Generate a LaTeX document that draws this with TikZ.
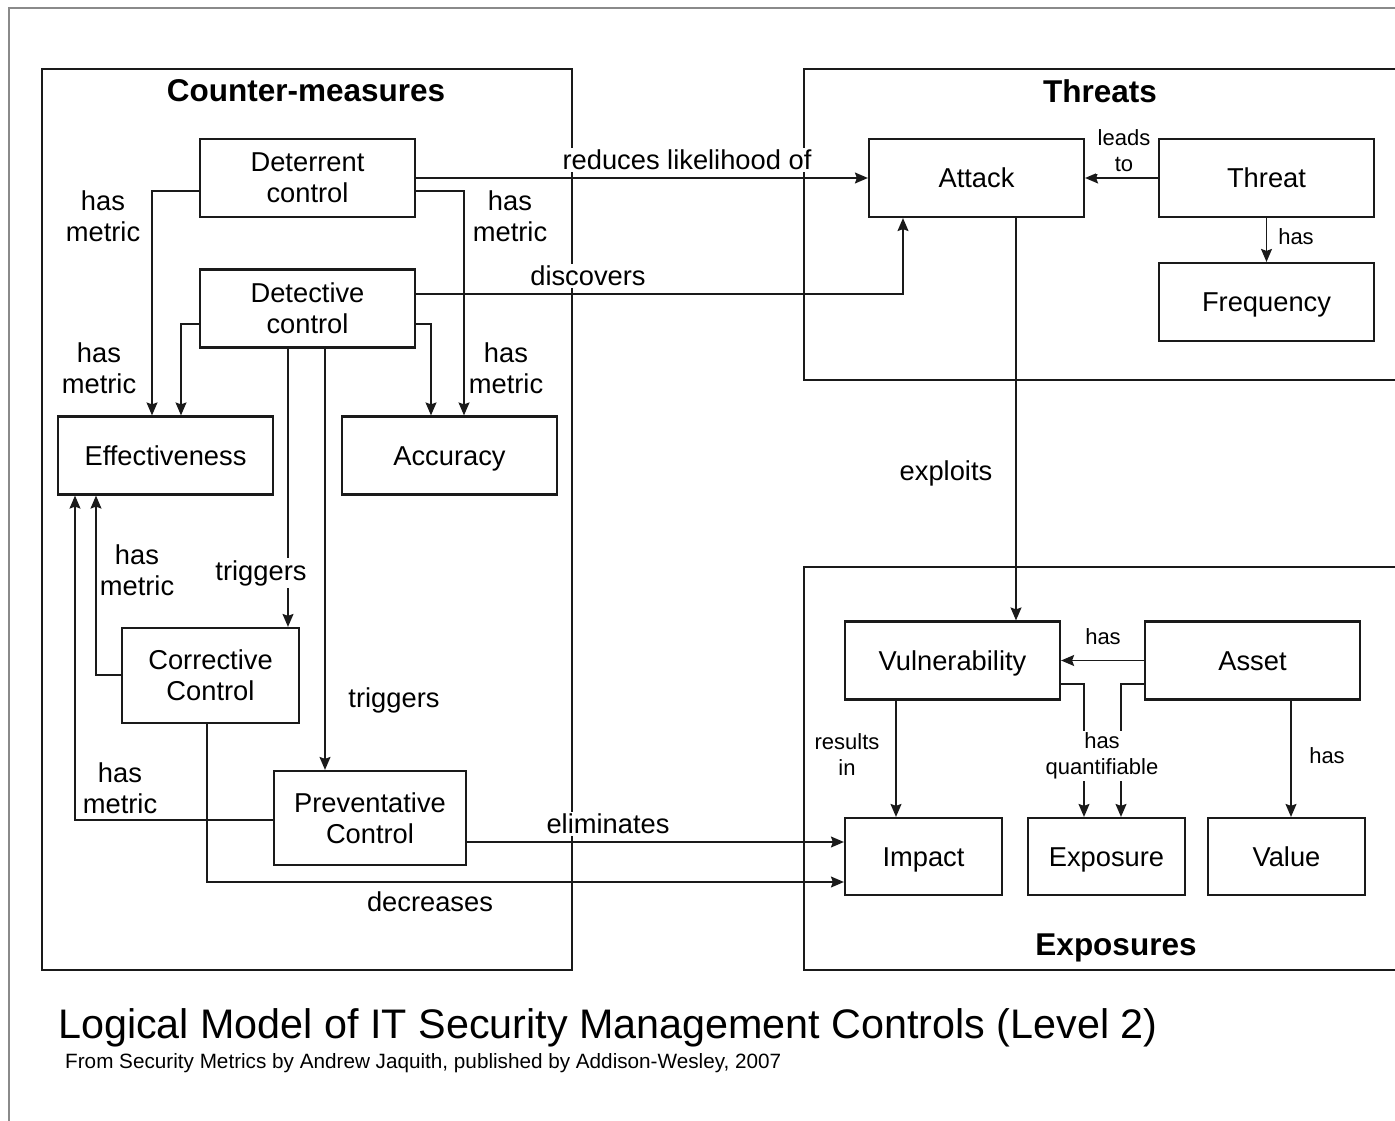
\documentclass[tikz,border=0pt]{standalone}
\usepackage{fontspec}
\setmainfont{Liberation Sans}
\usetikzlibrary{arrows.meta}
\definecolor{ink}{HTML}{1A1A1A}
\definecolor{framegray}{HTML}{8A8A8A}
\tikzset{
  box/.style={draw=ink, line width=2.2pt, minimum width=215, minimum height=78, inner sep=0pt, align=center,
              font=\fontsize{27.3}{31}\selectfont},
  oneline/.style={text height=23pt, text depth=3.4pt},
  smallbox/.style={box, oneline, minimum width=157, minimum height=77},
  group/.style={draw=ink, line width=2.4pt},
  conn/.style={draw=ink, line width=1.5pt, -{Stealth[length=13pt,width=11pt,inset=2pt]}},
  lab/.style={fill=white, inner sep=2pt, align=center, font=\fontsize{27.3}{31}\selectfont},
  slab/.style={fill=white, inner sep=2pt, align=center, font=\fontsize{22}{26}\selectfont},
  gtitle/.style={inner sep=0pt, font=\fontsize{31.5}{36}\bfseries\selectfont},
}
\begin{document}
\begin{tikzpicture}[x=1pt, y=-1pt]
\useasboundingbox (0,0) rectangle (1395,1121);
\fill[white] (0,0) rectangle (1395,1121);
% outer frame
\draw[framegray, line width=2.5pt] (1395,8) -- (9,8) -- (9,1121);
% group boxes
\draw[group] (42,69) rectangle (572,970);
\draw[group] (1395,69) -- (804,69) -- (804,380) -- (1395,380);
\draw[group] (1395,567) -- (804,567) -- (804,970) -- (1395,970);
\node[gtitle] (tcm) at (306,91) {Counter-measures};
\node[gtitle] (tth) at (1100,91) {Threats};
\node[gtitle] (tex) at (1116,948) {Exposures};

% nodes
\node[box] (det) at (307.5,178) {Deterrent\\control};
\node[box] (dtc) at (307.5,308.5) {Detective\\control};
\node[box, oneline] (eff) at (165.5,455.5) {Effectiveness};
\node[box, oneline] (acc) at (449.5,455.5) {Accuracy};
\node[box, minimum width=177, minimum height=95] (cor) at (210.5,675.5) {Corrective\\Control};
\node[box, minimum width=192, minimum height=94] (pre) at (370,818) {Preventative\\Control};
\node[box, oneline] (att) at (976.5,178) {Attack};
\node[box, oneline] (thr) at (1266.5,178) {Threat};
\node[box, oneline] (fre) at (1266.5,302) {Frequency};
\node[box, oneline] (vul) at (952.5,660.5) {Vulnerability};
\node[box, oneline] (ass) at (1252.5,660.5) {Asset};
\node[smallbox] (imp) at (923.5,856.5) {Impact};
\node[smallbox] (exp) at (1106.5,856.5) {Exposure};
\node[smallbox] (val) at (1286.5,856.5) {Value};

% connectors
\draw[conn] (det.east) -- (att.west);
\draw[conn] (det.west |- 0,191) -| (eff.north -| 152,0);
\draw[conn] (det.east |- 0,191) -| (acc.north -| 464,0);
\draw[conn] (dtc.east |- 0,294) -| (att.south -| 903,0);
\draw[conn] (dtc.west |- 0,324) -| (eff.north -| 181,0);
\draw[conn] (dtc.east |- 0,324) -| (acc.north -| 431,0);
\draw[conn] (dtc.south -| 288,0) -- (cor.north -| 288,0);
\draw[conn] (dtc.south -| 325,0) -- (pre.north -| 325,0);
\draw[conn] (cor.west |- 0,675) -| (eff.south -| 96,0);
\draw[conn] (pre.west |- 0,820) -| (eff.south -| 75,0);
\draw[conn] (pre.east |- 0,842) -- (imp.west |- 0,842);
\draw[conn] (cor.south -| 207,0) |- (imp.west |- 0,882);
\draw[conn] (att.south -| 1016,0) -- (vul.north -| 1016,0);
\draw[conn] (thr.west) -- (att.east);
\draw[conn] (thr.south) -- (fre.north);
\draw[conn] (ass.west) -- (vul.east);
\draw[conn] (vul.south -| 896,0) -- (imp.north -| 896,0);
\draw[conn] (vul.east |- 0,684) -| (exp.north -| 1084,0);
\draw[conn] (ass.west |- 0,684) -| (exp.north -| 1121,0);
\draw[conn] (ass.south -| 1291,0) -- (val.north -| 1291,0);

% connector labels
\node[lab] (l1) at (687,160) {reduces likelihood of};
\node[lab] (l2) at (588,276) {discovers};
\node[lab] (l3) at (103,216) {has\\metric};
\node[lab] (l4) at (510,216) {has\\metric};
\node[lab] (l5) at (99,368) {has\\metric};
\node[lab] (l6) at (506,368) {has\\metric};
\node[lab] (l7) at (261,573) {triggers};
\node[lab] (l8) at (394,700) {triggers};
\node[lab] (l9) at (137,570) {has\\metric};
\node[lab] (l10) at (120,788) {has\\metric};
\node[lab] (l11) at (608,824) {eliminates};
\node[lab] (l12) at (430,902) {decreases};
\node[lab] (l13) at (946,473) {exploits};
\node[slab] (l14) at (1124,151) {leads\\to};
\node[slab] (l15) at (1296,237) {has};
\node[slab] (l16) at (1103,637) {has};
\node[slab] (l17) at (847,755) {results\\in};
\node[slab] (l18) at (1102,756) {has\\quantifiable};
\node[slab] (l19) at (1327,756) {has};

% caption
\node[anchor=west, inner sep=0pt, font=\fontsize{41.3}{46}\selectfont] (cap) at (58,1028) {Logical Model of IT Security Management Controls (Level 2)};
\node[anchor=west, inner sep=0pt, font=\fontsize{20.7}{24}\selectfont] (src) at (65,1063) {From Security Metrics by Andrew Jaquith, published by Addison-Wesley, 2007};
\end{tikzpicture}
\end{document}
